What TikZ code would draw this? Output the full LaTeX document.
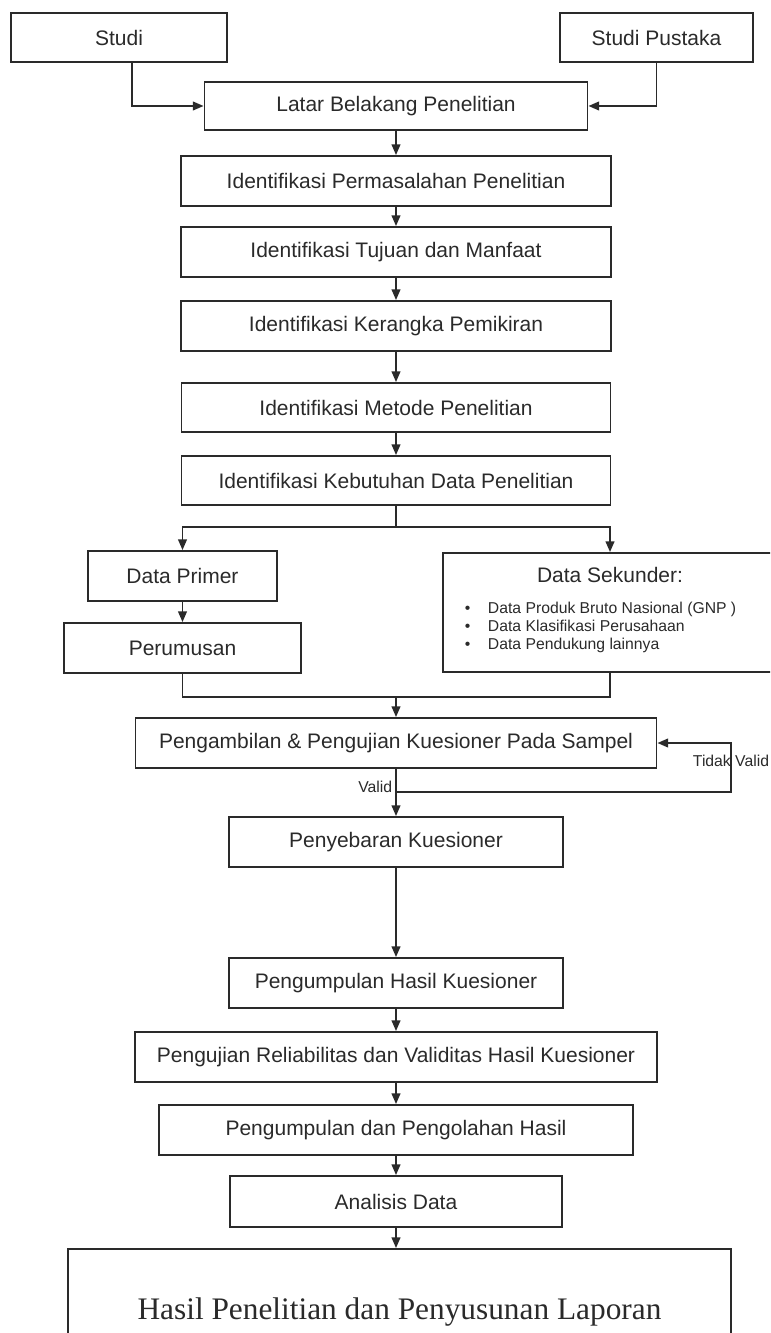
\documentclass[tikz,border=0pt]{standalone}
\usepackage{fontspec}
\setmainfont{Liberation Sans}
\newfontfamily\laporanfont{Liberation Serif}
\usetikzlibrary{arrows.meta}
\definecolor{ink}{HTML}{2A2A2A}

\begin{document}
\begin{tikzpicture}[x=0.75pt,y=-0.75pt,line width=1.4pt,color=ink,
  box/.style args={#1/#2}{draw,rectangle,inner sep=0pt,minimum width=#1*0.75pt,minimum height=#2*0.75pt,font=\fontsize{15.75}{18}\selectfont},
  small/.style={inner sep=0pt,font=\fontsize{11.8}{14}\selectfont,text height=1.5ex,text depth=.3ex},
  arr/.style={-{Triangle[length=8pt,width=6.5pt]}}]
\clip (0,0) rectangle (770,1333);
% top
\node[box=216/49] (studi) at (119,37.5) {Studi};
\node[box=193/49] (pustaka) at (656.5,37.5) {Studi Pustaka};
\node[box=383/48] (latar) at (396,106) {Latar Belakang Penelitian};
\draw[arr] ([xshift=9.75pt]studi.south) |- (latar);
\draw[arr] (pustaka) |- (latar);
% identifikasi
\node[box=430/50] (perm) at (396,181) {Identifikasi Permasalahan Penelitian};
\node[box=430/50] (tujuan) at (396,252) {Identifikasi Tujuan dan Manfaat};
\node[box=430/50] (kerangka) at (396,326) {Identifikasi Kerangka Pemikiran};
\node[box=429/49] (metode) at (396,407.5) {Identifikasi Metode Penelitian};
\node[box=429/49] (kebutuhan) at (396,480.5) {Identifikasi Kebutuhan Data Penelitian};
\draw[arr] (latar) -- (perm);
\draw[arr] (perm) -- (tujuan);
\draw[arr] (tujuan) -- (kerangka);
\draw[arr] (kerangka) -- (metode);
\draw[arr] (metode) -- (kebutuhan);
% data
\node[box=189/50] (primer) at (182.5,576) {Data Primer};
\node[box=237/50] (perumusan) at (182.5,648) {Perumusan};
\node[box=334/119] (sekunder) at (610,612.5) {};
\node[font=\fontsize{15.75}{18}\selectfont] (sektitle) at (610,575) {Data Sekunder:};
\node[small,anchor=west] (sek1) at (464,609) {\makebox[17.25pt][l]{•}Data Produk Bruto Nasional (GNP )};
\node[small,anchor=west] (sek2) at (464,627) {\makebox[17.25pt][l]{•}Data Klasifikasi Perusahaan};
\node[small,anchor=west] (sek3) at (464,645) {\makebox[17.25pt][l]{•}Data Pendukung lainnya};
\coordinate (split) at (396,527);
\draw (kebutuhan) -- (split);
\draw[arr] (split) -| (primer);
\draw[arr] (split) -| (sekunder);
\draw[arr] (primer) -- (perumusan);
\coordinate (merge) at (396,697);
\draw (perumusan) |- (merge);
\draw (sekunder) |- (merge);
% kuesioner
\node[box=521/50] (pengambilan) at (396,743) {Pengambilan \& Pengujian Kuesioner Pada Sampel};
\node[box=334/50] (penyebaran) at (396,842) {Penyebaran Kuesioner};
\draw[arr] (merge) -- (pengambilan);
\draw[arr] (pengambilan) -- (penyebaran);
\coordinate (vjoin) at (396,792);
\coordinate (vturn) at (731,792);
\draw[arr] (vjoin) -- (vturn) |- (pengambilan.east);
\node[small,anchor=east] (valid) at (393,788) {Valid};
\node[small] (tidak) at (731,762) {Tidak Valid};
% hasil
\node[box=334/50] (hasilk) at (396,983) {Pengumpulan Hasil Kuesioner};
\node[box=522/50] (pengujian) at (396,1057) {Pengujian Reliabilitas dan Validitas Hasil Kuesioner};
\node[box=474/50] (olah) at (396,1130) {Pengumpulan dan Pengolahan Hasil};
\node[box=332/51] (analisis) at (396,1201.5) {Analisis Data};
\node[box=663/126,font=\laporanfont\fontsize{23.5}{28}\selectfont] (laporan) at (399.5,1312) {Hasil Penelitian dan Penyusunan Laporan};
\draw[arr] (penyebaran) -- (hasilk);
\draw[arr] (hasilk) -- (pengujian);
\draw[arr] (pengujian) -- (olah);
\draw[arr] (olah) -- (analisis);
\draw[arr] (analisis) -- (analisis |- laporan.north);
\end{tikzpicture}
\end{document}
